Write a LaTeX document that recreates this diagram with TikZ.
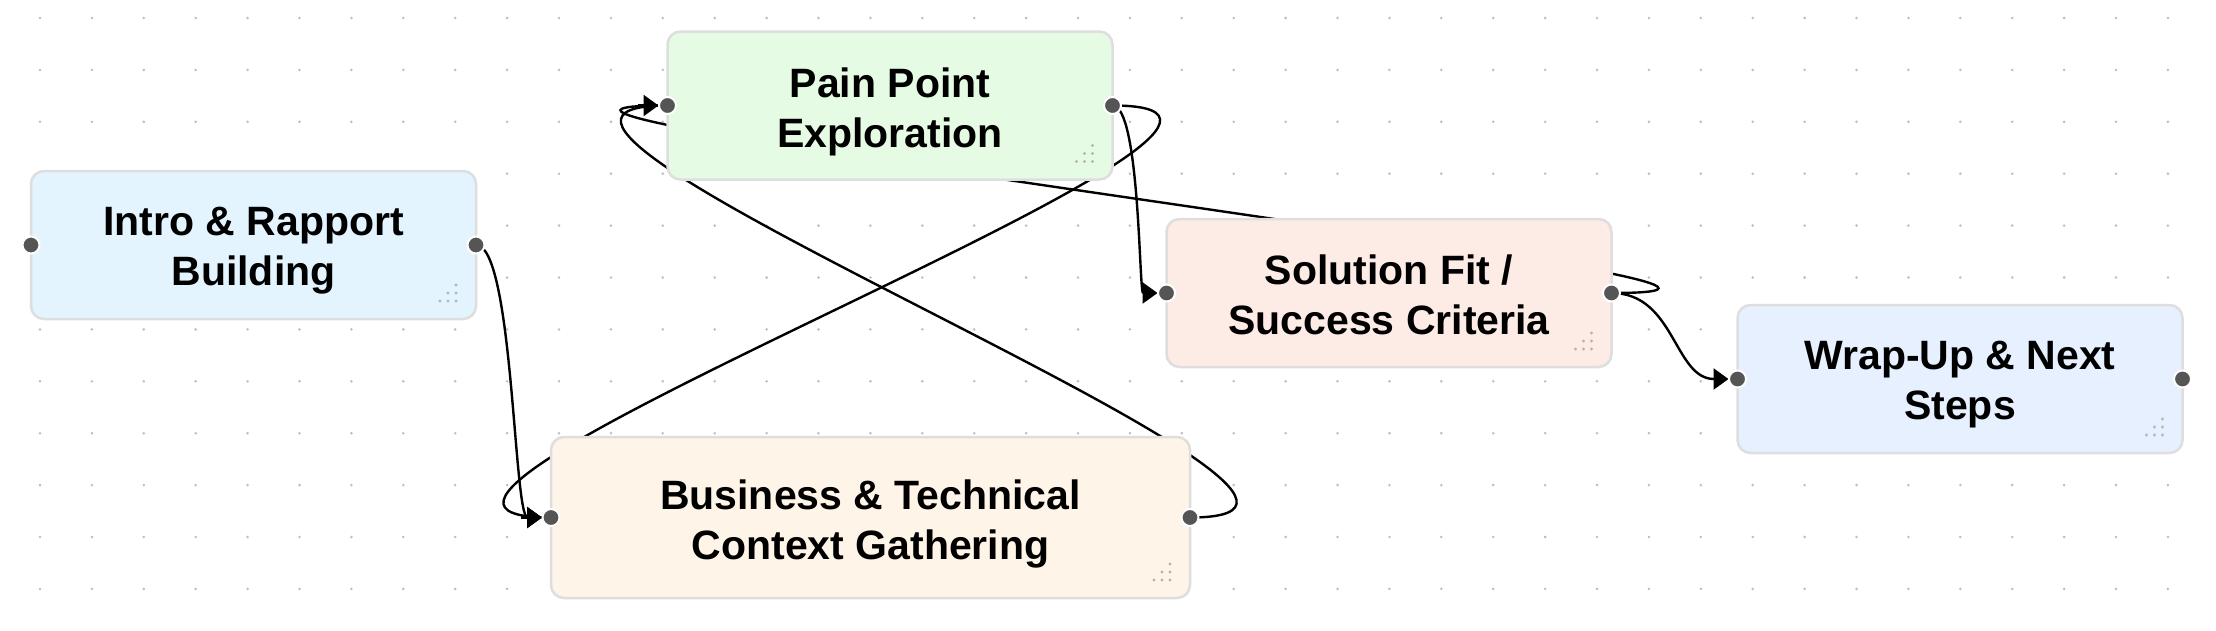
\documentclass[tikz,border=0pt]{standalone}
\usepackage{fontspec}
\setmainfont{Liberation Sans}
\usetikzlibrary{arrows.meta}
\definecolor{introfill}{HTML}{E3F4FE}
\definecolor{painfill}{HTML}{E6FBE3}
\definecolor{solfill}{HTML}{FDEBE6}
\definecolor{bizfill}{HTML}{FEF4E7}
\definecolor{wrapfill}{HTML}{E6F0FE}
\definecolor{boxborder}{HTML}{DEDEDE}
\definecolor{portc}{HTML}{555555}
\definecolor{gridc}{HTML}{BDBDBD}
\definecolor{handlec}{HTML}{B5B5B5}
\pgfdeclarelayer{bg}
\pgfdeclarelayer{edgelayer}
\pgfsetlayers{bg,edgelayer,main}
\newcommand\rhandle[1]{%
  \foreach \dx/\dy in {20/18,28/18,36/18,20/26,28/26,20/34}
    \fill[handlec] ([xshift=-\dx pt,yshift=\dy pt]#1.south east) circle (1.6);}
\begin{document}
\begin{tikzpicture}[x=1pt,y=-1pt,
  box/.style={draw=boxborder, line width=2.5pt, rounded corners=13pt,
    minimum width=445pt, minimum height=148pt, inner sep=0pt, outer sep=0pt},
  boxtext/.style={align=center, font=\fontsize{41}{50}\selectfont\bfseries,
    text=black, inner sep=0pt, yshift=-6pt},
  port/.style={circle, fill=portc, draw=white, line width=2pt,
    minimum size=17pt, inner sep=0pt},
  wire/.style={line width=2.4pt},
  flow/.style={wire, -{Triangle[length=15pt,width=21pt]}, shorten >=9pt},
]
\useasboundingbox (0,0) rectangle (2216,630);
\begin{pgfonlayer}{bg}
\fill[white] (0,0) rectangle (2216,630);
\foreach \i in {0,...,41}
  \foreach \j in {0,...,11}
    \fill[gridc] ({40+51.9*\i},{18+51.9*\j}) circle (1.4);
\end{pgfonlayer}

% boxes
\node[box, fill=introfill] (intro) at (253.5,245) {};
\node[box, fill=painfill] (pain) at (890,105.5) {};
\node[box, fill=solfill] (sol) at (1389,293) {};
\node[box, fill=bizfill, minimum width=639pt, minimum height=161pt] (biz) at (870.5,517.5) {};
\node[box, fill=wrapfill] (wrap) at (1960,379) {};

\node[boxtext] (introtext) at (intro.center) {Intro \& Rapport\\Building};
\node[boxtext] (paintext) at (pain.center) {Pain Point\\Exploration};
\node[boxtext] (soltext) at (sol.center) {Solution Fit /\\Success Criteria\vphantom{p}};
\node[boxtext] (biztext) at (biz.center) {Business \& Technical\\Context Gathering};
\node[boxtext] (wraptext) at (wrap.center) {Wrap-Up \& Next\\Steps};

\rhandle{intro}
\rhandle{pain}
\rhandle{sol}
\rhandle{biz}
\rhandle{wrap}

% ports
\foreach \n in {intro,pain,sol,biz,wrap}{
  \node[port] (\n-in) at (\n.west) {};
  \node[port] (\n-out) at (\n.east) {};
}

% connectors
\begin{pgfonlayer}{edgelayer}
\draw[flow] (intro-out.center) .. controls +(37.5,0) and +(-37.5,0) .. (biz-in.center);
\draw[flow] (pain-out.center) .. controls +(27.5,0) and +(-27.5,0) .. (sol-in.center);
\draw[flow] (sol-out.center) .. controls +(63.5,0) and +(-63.5,0) .. (wrap-in.center);
% looping connectors: full curve, tip drawn on its straight last stretch
\draw[wire] (pain-out.center) .. controls +(290,0) and +(-290,0) .. (biz-in.center);
\draw[wire] (biz-out.center) .. controls +(280,0) and +(-280,0) .. (pain-in.center);
\draw[wire] (sol-out.center) .. controls +(340,0) and +(-340,0) .. (pain-in.center);
\draw[flow] ([xshift=-30pt]biz-in.center) -- (biz-in.center);
\draw[flow] ([xshift=-30pt]pain-in.center) -- (pain-in.center);
\end{pgfonlayer}
\end{tikzpicture}
\end{document}
